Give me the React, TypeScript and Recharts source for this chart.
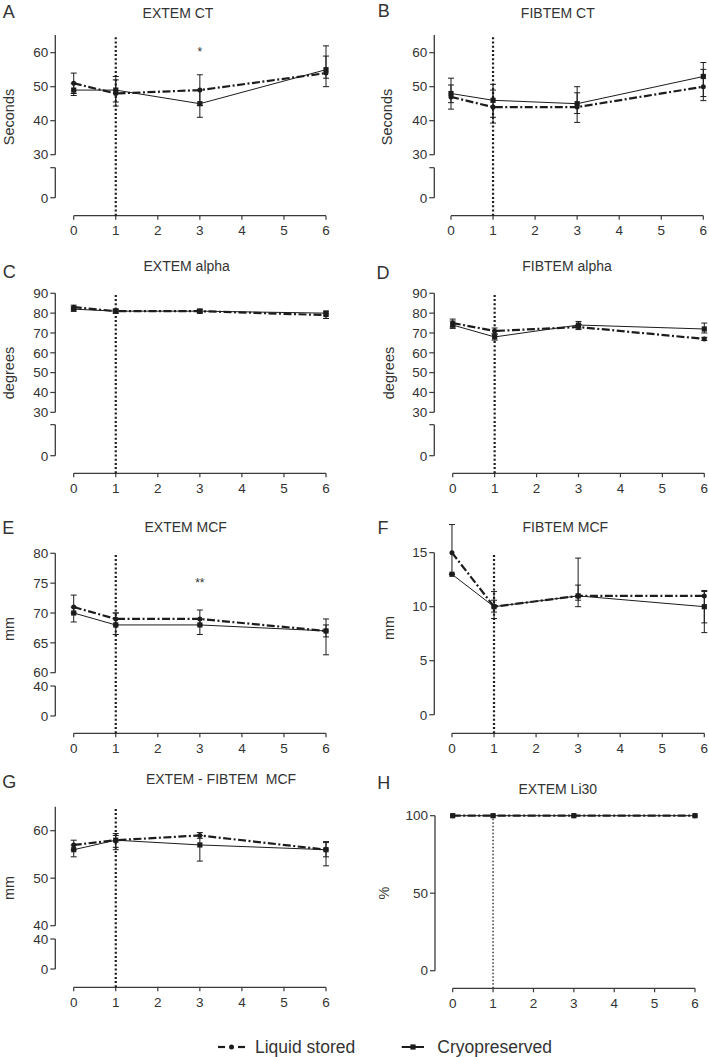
import {
  ErrorBar,
  Line,
  LineChart,
  ReferenceDot,
  ReferenceLine,
  XAxis,
  YAxis,
} from "recharts";

type Err = [number, number];

const FONT = '"Liberation Sans", Arial, Helvetica, sans-serif';
const INK = "#1c1c1c";
const AXIS = "#3a3a3a";
const TEXT = "#333";

const TIMES = [0, 1, 3, 6];
const X_TICKS = [0, 1, 2, 3, 4, 5, 6];

// A – EXTEM CT (s)
const EX_CT_LIQUID = [51, 48, 49, 54];
const EX_CT_LIQUID_ERR: Err[] = [[3, 3], [3.7, 4], [4.5, 4.5], [1.5, 5]];
const EX_CT_CRYO = [49, 49, 45, 55];
const EX_CT_CRYO_ERR: Err[] = [[1.6, 2], [3.5, 4], [4, 4], [5, 7]];

// B – FIBTEM CT (s)
const FIB_CT_LIQUID = [47, 44, 44, 50];
const FIB_CT_LIQUID_ERR: Err[] = [[3.6, 3.5], [4.7, 5], [4.5, 4.2], [4.1, 5.1]];
const FIB_CT_CRYO = [48, 46, 45, 53];
const FIB_CT_CRYO_ERR: Err[] = [[2.7, 4.5], [5, 4.7], [2.9, 5], [5.9, 4.1]];

// C – EXTEM alpha (degrees)
const EX_ALPHA_LIQUID = [83, 81, 81, 79];
const EX_ALPHA_LIQUID_ERR: Err[] = [[1, 1], [1, 1], [1, 1], [1.7, 1]];
const EX_ALPHA_CRYO = [82, 81, 81, 80];
const EX_ALPHA_CRYO_ERR: Err[] = [[1, 1], [1, 1], [0.8, 0.8], [1.5, 1]];

// D – FIBTEM alpha (degrees)
const FIB_ALPHA_LIQUID = [75, 71, 73, 67];
const FIB_ALPHA_LIQUID_ERR: Err[] = [[2, 2], [1.5, 1.5], [1.3, 1.3], [0.8, 0.8]];
const FIB_ALPHA_CRYO = [74, 68, 74, 72];
const FIB_ALPHA_CRYO_ERR: Err[] = [[1.7, 2], [1.6, 1.5], [1.5, 1.8], [2, 3]];

// E – EXTEM MCF (mm)
const EX_MCF_LIQUID = [71, 69, 69, 67];
const EX_MCF_LIQUID_ERR: Err[] = [[1, 2], [1, 1], [1, 1.5], [1, 1]];
const EX_MCF_CRYO = [70, 68, 68, 67];
const EX_MCF_CRYO_ERR: Err[] = [[1.5, 1], [1.6, 2], [1.6, 1], [4, 2]];

// F – FIBTEM MCF (mm)
const FIB_MCF_LIQUID = [15, 10, 11, 11];
const FIB_MCF_LIQUID_ERR: Err[] = [[2, 2.6], [1.1, 1.4], [0.4, 1], [2.5, 0.5]];
const FIB_MCF_CRYO = [13, 10, 11, 10];
const FIB_MCF_CRYO_ERR: Err[] = [[0, 0], [0.5, 0.6], [1, 3.5], [2.4, 1.4]];

// G – EXTEM - FIBTEM MCF (mm)
const DIFF_MCF_LIQUID = [57, 58, 59, 56];
const DIFF_MCF_LIQUID_ERR: Err[] = [[1, 1], [1.5, 1.4], [0.6, 0.6], [1.5, 1.5]];
const DIFF_MCF_CRYO = [56, 58, 57, 56];
const DIFF_MCF_CRYO_ERR: Err[] = [[1.5, 1], [2, 1], [3.4, 2], [3.4, 1.7]];

// H – EXTEM Li30 (%)
const LI30_LIQUID = [100, 100, 100, 100];
const LI30_CRYO = [100, 100, 100, 100];

// Broken y axes: the short stub under the break ("0", and "40" in E/G) sits at
// a virtual value below the upper segment; the labels below say what it shows.
const EX_CT_TICKS = [17.35, 26.18, 30, 40, 50, 60];
const EX_CT_LABELS = ["0", "", "30", "40", "50", "60"];
const ALPHA_TICKS = [8.11, 23.75, 30, 40, 50, 60, 70, 80, 90];
const ALPHA_LABELS = ["0", "", "30", "40", "50", "60", "70", "80", "90"];
const EX_MCF_TICKS = [52.75, 57.77, 60, 65, 70, 75, 80];
const EX_MCF_LABELS = ["0", "40", "60", "65", "70", "75", "80"];
const FIB_MCF_TICKS = [0, 5, 10, 15];
const FIB_MCF_LABELS = ["0", "5", "10", "15"];
const DIFF_MCF_TICKS = [30.88, 37.2, 40, 50, 60];
const DIFF_MCF_LABELS = ["0", "40", "40", "50", "60"];
const LI30_TICKS = [0, 50, 100];
const LI30_LABELS = ["0", "50", "100"];

const Y_AXIS_W = 40;
const X_AXIS_H = 25;

interface PanelDef {
  letter: string;
  title: string;
  yLabel: string;
  liquid: number[];
  liquidErr?: Err[];
  cryo: number[];
  cryoErr?: Err[];
  box: { x: number; y: number; w: number; h: number };
  plot: { left: number; right: number; top: number; bottom: number };
  xMin: number;
  yDomain: [number, number];
  yTicks: number[];
  yLabels: string[];
  segments: [number, number][];
  dividerTop: number;
  thinDivider?: boolean;
  star?: { y: number; text: string };
  titleAt: [number, number];
  letterAt: [number, number];
  yLabelAt: [number, number];
}

const PANELS: PanelDef[] = [
  {
    letter: "A", title: "EXTEM CT", yLabel: "Seconds",
    liquid: EX_CT_LIQUID, liquidErr: EX_CT_LIQUID_ERR, cryo: EX_CT_CRYO, cryoErr: EX_CT_CRYO_ERR,
    box: { x: 0, y: 0, w: 355, h: 270 },
    plot: { left: 55.3, right: 326, top: 35, bottom: 215.7 },
    xMin: -0.438, yDomain: [12.06, 65.2],
    yTicks: EX_CT_TICKS, yLabels: EX_CT_LABELS,
    segments: [[17.35, 26.18], [30, 65.2]], dividerTop: 65.2,
    star: { y: 60.3, text: "*" },
    titleAt: [178, 12.7], letterAt: [8.8, 11.7], yLabelAt: [8.5, 116.7],
  },
  {
    letter: "B", title: "FIBTEM CT", yLabel: "Seconds",
    liquid: FIB_CT_LIQUID, liquidErr: FIB_CT_LIQUID_ERR, cryo: FIB_CT_CRYO, cryoErr: FIB_CT_CRYO_ERR,
    box: { x: 355, y: 0, w: 354, h: 270 },
    plot: { left: 434.3, right: 703.3, top: 35, bottom: 215.7 },
    xMin: -0.397, yDomain: [12.06, 65.2],
    yTicks: EX_CT_TICKS, yLabels: EX_CT_LABELS,
    segments: [[17.35, 26.18], [30, 65.2]], dividerTop: 65.2,
    titleAt: [557.8, 12.7], letterAt: [383.8, 10.8], yLabelAt: [387.3, 116.7],
  },
  {
    letter: "C", title: "EXTEM alpha", yLabel: "degrees",
    liquid: EX_ALPHA_LIQUID, liquidErr: EX_ALPHA_LIQUID_ERR, cryo: EX_ALPHA_CRYO, cryoErr: EX_ALPHA_CRYO_ERR,
    box: { x: 0, y: 250, w: 355, h: 270 },
    plot: { left: 55.3, right: 326, top: 293.3, bottom: 473.3 },
    xMin: -0.438, yDomain: [-0.76, 90],
    yTicks: ALPHA_TICKS, yLabels: ALPHA_LABELS,
    segments: [[8.11, 23.75], [30, 90]], dividerTop: 90,
    titleAt: [186.7, 266], letterAt: [9.3, 272], yLabelAt: [8.5, 373.3],
  },
  {
    letter: "D", title: "FIBTEM alpha", yLabel: "degrees",
    liquid: FIB_ALPHA_LIQUID, liquidErr: FIB_ALPHA_LIQUID_ERR, cryo: FIB_ALPHA_CRYO, cryoErr: FIB_ALPHA_CRYO_ERR,
    box: { x: 355, y: 250, w: 354, h: 270 },
    plot: { left: 434.3, right: 704.3, top: 293.3, bottom: 473.3 },
    xMin: -0.439, yDomain: [-0.76, 90],
    yTicks: ALPHA_TICKS, yLabels: ALPHA_LABELS,
    segments: [[8.11, 23.75], [30, 90]], dividerTop: 90,
    titleAt: [567, 266], letterAt: [383, 273], yLabelAt: [389, 373],
  },
  {
    letter: "E", title: "EXTEM MCF", yLabel: "mm",
    liquid: EX_MCF_LIQUID, liquidErr: EX_MCF_LIQUID_ERR, cryo: EX_MCF_CRYO, cryoErr: EX_MCF_CRYO_ERR,
    box: { x: 0, y: 500, w: 355, h: 270 },
    plot: { left: 55.3, right: 326, top: 553.3, bottom: 733.3 },
    xMin: -0.438, yDomain: [49.85, 80],
    yTicks: EX_MCF_TICKS, yLabels: EX_MCF_LABELS,
    segments: [[52.75, 57.77], [60, 80]], dividerTop: 80,
    star: { y: 75.0, text: "**" },
    titleAt: [185.7, 526.7], letterAt: [8.3, 528.3], yLabelAt: [9.2, 629],
  },
  {
    letter: "F", title: "FIBTEM MCF", yLabel: "mm",
    liquid: FIB_MCF_LIQUID, liquidErr: FIB_MCF_LIQUID_ERR, cryo: FIB_MCF_CRYO, cryoErr: FIB_MCF_CRYO_ERR,
    box: { x: 355, y: 500, w: 354, h: 270 },
    plot: { left: 434.3, right: 704.3, top: 523.5, bottom: 733.3 },
    xMin: -0.42, yDomain: [-1.72, 17.7],
    yTicks: FIB_MCF_TICKS, yLabels: FIB_MCF_LABELS,
    segments: [[0, 15]], dividerTop: 15,
    titleAt: [565.3, 526.7], letterAt: [383, 528.3], yLabelAt: [388.7, 628.3],
  },
  {
    letter: "G", title: "EXTEM - FIBTEM  MCF", yLabel: "mm",
    liquid: DIFF_MCF_LIQUID, liquidErr: DIFF_MCF_LIQUID_ERR, cryo: DIFF_MCF_CRYO, cryoErr: DIFF_MCF_CRYO_ERR,
    box: { x: 0, y: 750, w: 355, h: 270 },
    plot: { left: 55.3, right: 326, top: 806.7, bottom: 987.3 },
    xMin: -0.438, yDomain: [27.03, 65.05],
    yTicks: DIFF_MCF_TICKS, yLabels: DIFF_MCF_LABELS,
    segments: [[30.88, 37.2], [40, 65.05]], dividerTop: 65.05,
    titleAt: [221, 779.3], letterAt: [9.3, 781.7], yLabelAt: [9.2, 887.5],
  },
  {
    letter: "H", title: "EXTEM Li30", yLabel: "%",
    liquid: LI30_LIQUID, cryo: LI30_CRYO,
    box: { x: 355, y: 750, w: 354, h: 270 },
    plot: { left: 435, right: 695, top: 815.7, bottom: 988.3 },
    xMin: -0.438, yDomain: [-11.35, 100],
    yTicks: LI30_TICKS, yLabels: LI30_LABELS,
    segments: [[0, 100]], dividerTop: 100, thinDivider: true,
    titleAt: [557.8, 789.3], letterAt: [383.8, 782.7], yLabelAt: [384.2, 893.3],
  },
];

const TICK_STYLE = { fontSize: 13.5, fill: TEXT, fontFamily: FONT };

function SquareDot(props: any) {
  const { cx, cy, index } = props;
  if (cx == null || cy == null) return <g key={`sq-${index}`} />;
  return <rect key={`sq-${index}`} x={cx - 2.6} y={cy - 2.6} width={5.2} height={5.2} fill={INK} />;
}

function RoundDot(props: any) {
  const { cx, cy, index } = props;
  if (cx == null || cy == null) return <g key={`ci-${index}`} />;
  return <circle key={`ci-${index}`} cx={cx} cy={cy} r={2.5} fill={INK} />;
}

function Caption({ at, text, size, rotate }: { at: [number, number]; text: string; size: number; rotate?: boolean }) {
  return (
    <div
      style={{
        position: "absolute",
        left: at[0],
        top: at[1],
        transform: `translate(-50%, -50%)${rotate ? " rotate(-90deg)" : ""}`,
        fontSize: size,
        lineHeight: 1,
        whiteSpace: "pre",
        color: TEXT,
      }}
    >
      {text}
    </div>
  );
}

function Panel({ p }: { p: PanelDef }) {
  const { box, plot } = p;
  const margin = {
    left: plot.left - box.x - Y_AXIS_W,
    right: box.x + box.w - plot.right,
    top: plot.top - box.y,
    bottom: box.y + box.h - plot.bottom - X_AXIS_H,
  };
  const data = TIMES.map((t, i) => ({
    t,
    liquid: p.liquid[i],
    cryo: p.cryo[i],
    liquidErr: p.liquidErr ? p.liquidErr[i] : undefined,
    cryoErr: p.cryoErr ? p.cryoErr[i] : undefined,
  }));
  const y0 = p.yDomain[0];

  return (
    <>
      <div style={{ position: "absolute", left: box.x, top: box.y }}>
        <LineChart width={box.w} height={box.h} data={data} margin={margin}>
          <XAxis
            type="number"
            dataKey="t"
            domain={[p.xMin, 6]}
            ticks={X_TICKS}
            interval={0}
            axisLine={false}
            tickLine={{ stroke: AXIS, strokeWidth: 1.2 }}
            tickSize={4}
            tickMargin={6}
            height={X_AXIS_H}
            tick={TICK_STYLE}
          />
          <YAxis
            type="number"
            domain={p.yDomain}
            ticks={p.yTicks}
            interval={0}
            axisLine={false}
            tickLine={{ stroke: AXIS, strokeWidth: 1.2 }}
            tickSize={5}
            tickMargin={2}
            width={Y_AXIS_W}
            tick={TICK_STYLE}
            tickFormatter={(v: number) => {
              const i = p.yTicks.indexOf(v);
              return i >= 0 ? p.yLabels[i] : String(v);
            }}
          />
          {p.segments.map(([a, b], i) => (
            <ReferenceLine
              key={`seg-${i}`}
              segment={[{ x: p.xMin, y: a }, { x: p.xMin, y: b }]}
              stroke={AXIS}
              strokeWidth={1.3}
              ifOverflow="visible"
            />
          ))}
          <ReferenceLine
            segment={[{ x: 0, y: y0 }, { x: 6, y: y0 }]}
            stroke={AXIS}
            strokeWidth={1.3}
            ifOverflow="visible"
          />
          <ReferenceLine
            segment={[{ x: 1, y: y0 }, { x: 1, y: p.dividerTop }]}
            stroke={INK}
            strokeWidth={p.thinDivider ? 1.3 : 2.2}
            strokeDasharray={p.thinDivider ? "1.5 2" : "2 2.2"}
            ifOverflow="visible"
          />
          <Line
            type="linear"
            dataKey="cryo"
            stroke={INK}
            strokeWidth={1}
            dot={SquareDot}
            activeDot={false}
            isAnimationActive={false}
          >
            {p.cryoErr && (
              <ErrorBar dataKey="cryoErr" width={3} stroke={INK} strokeWidth={1} direction="y" isAnimationActive={false} />
            )}
          </Line>
          <Line
            type="linear"
            dataKey="liquid"
            stroke={INK}
            strokeWidth={2.2}
            strokeDasharray="8 2.5 2 2.5"
            dot={RoundDot}
            activeDot={false}
            isAnimationActive={false}
          >
            {p.liquidErr && (
              <ErrorBar dataKey="liquidErr" width={3} stroke={INK} strokeWidth={1} direction="y" isAnimationActive={false} />
            )}
          </Line>
          {p.star && (
            <ReferenceDot
              x={3}
              y={p.star.y}
              r={0}
              fill="none"
              stroke="none"
              label={{ value: p.star.text, position: "center", fontSize: 12, fill: TEXT, fontFamily: FONT }}
            />
          )}
        </LineChart>
      </div>
      <Caption at={p.titleAt} text={p.title} size={14} />
      <Caption at={p.letterAt} text={p.letter} size={18} />
      <Caption at={p.yLabelAt} text={p.yLabel} size={14.5} rotate />
    </>
  );
}

function LegendRow() {
  return (
    <div style={{ position: "absolute", left: 0, top: 1034, width: 709, height: 26, fontSize: 17.5, color: TEXT }}>
      <svg style={{ position: "absolute", left: 216, top: 7 }} width={32} height={12}>
        <line x1={2} y1={6} x2={9} y2={6} stroke={INK} strokeWidth={2.2} />
        <circle cx={15.5} cy={6} r={2.5} fill={INK} />
        <line x1={22} y1={6} x2={29} y2={6} stroke={INK} strokeWidth={2.2} />
      </svg>
      <span style={{ position: "absolute", left: 255, top: 0, lineHeight: "26px" }}>Liquid stored</span>
      <svg style={{ position: "absolute", left: 400, top: 7 }} width={26} height={12}>
        <line x1={1.7} y1={6} x2={24} y2={6} stroke={INK} strokeWidth={2} />
        <rect x={10.4} y={3.4} width={5.2} height={5.2} fill={INK} />
      </svg>
      <span style={{ position: "absolute", left: 437.3, top: 0, lineHeight: "26px" }}>Cryopreserved</span>
    </div>
  );
}

export default function App() {
  return (
    <div
      style={{
        position: "absolute",
        left: 0,
        top: 0,
        width: 709,
        height: 1057,
        background: "#fff",
        fontFamily: FONT,
        overflow: "hidden",
      }}
    >
      {PANELS.map((p) => (
        <Panel key={p.letter} p={p} />
      ))}
      <LegendRow />
    </div>
  );
}
